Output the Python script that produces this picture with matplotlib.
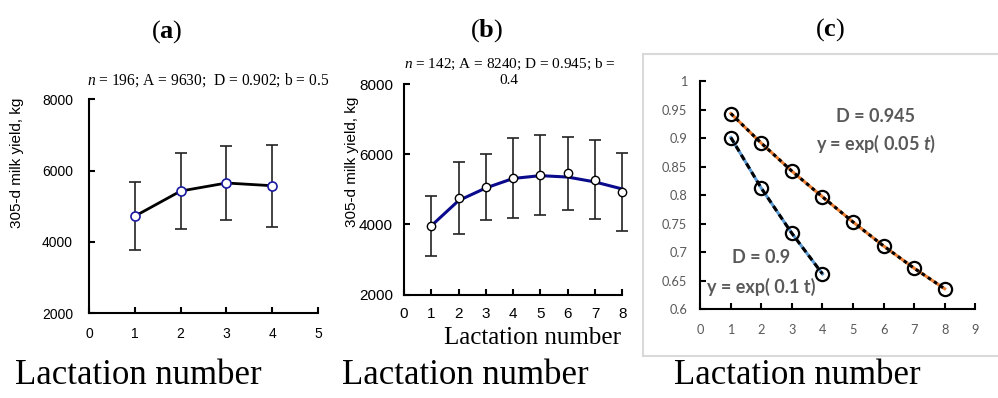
import numpy as np
import matplotlib
matplotlib.use("Agg")
from matplotlib import pyplot as plt
from matplotlib.lines import Line2D

# (a) 4 lactations
lact_a = [1, 2, 3, 4]
yield_a = [4723, 5427, 5653, 5577]
err_a = [945, 1055, 1024, 1150]

# (b) 8 lactations, observed means and fitted curve
lact_b = [1, 2, 3, 4, 5, 6, 7, 8]
yield_b = [3962, 4745, 5066, 5330, 5406, 5453, 5274, 4925]
err_b = [850, 1020, 950, 1140, 1145, 1040, 1120, 1100]
fit_b = [3962, 4680, 5040, 5310, 5390, 5350, 5210, 5010]

# (c) decay factors
lact_c1 = [1, 2, 3, 4, 5, 6, 7, 8]
d_0945 = [0.943, 0.891, 0.842, 0.797, 0.753, 0.711, 0.672, 0.636]
lact_c2 = [1, 2, 3, 4]
d_09 = [0.901, 0.812, 0.733, 0.662]

plt.rcParams['mathtext.fontset'] = 'custom'
plt.rcParams['mathtext.rm'] = 'Liberation Serif'
plt.rcParams['mathtext.it'] = 'Liberation Serif:italic'
plt.rcParams['mathtext.bf'] = 'Liberation Serif:bold'
plt.rcParams['mathtext.bfit'] = 'Lato:italic:bold'

W, H = 998, 398
fig = plt.figure(figsize=(W / 100, H / 100), dpi=100)


def px_axes(l, r, t, b):
    return fig.add_axes([l / W, 1 - b / H, (r - l) / W, (b - t) / H])


def ftext(x, y, s, **kw):
    return fig.text(x / W, 1 - y / H, s, ha='center', va='center', **kw)


def style_axes(ax, lw=1.5):
    for side in ['top', 'right']:
        ax.spines[side].set_visible(False)
    for side in ['left', 'bottom']:
        ax.spines[side].set_linewidth(lw)
        ax.spines[side].set_color('black')
    ax.tick_params(direction='in', length=4, width=lw)


# ---- panel (a)
ax1 = px_axes(89, 318, 99.3, 313.3)
style_axes(ax1)
ax1.errorbar(lact_a, yield_a, yerr=err_a, fmt='none', ecolor='#222222',
             elinewidth=1.2, capsize=4.5, capthick=1.2)
ax1.plot(lact_a, yield_a, color='black', lw=2, marker='o', ms=6.5,
         mfc='white', mec='#1a1aa0', mew=1.2, zorder=5)
ax1.set_xlim(0, 5)
ax1.set_ylim(2000, 8000)
ax1.set_xticks(range(0, 6))
ax1.set_yticks([2000, 4000, 6000, 8000])
ax1.tick_params(axis='y', pad=11.5)
ax1.tick_params(axis='x', pad=10)
ax1.tick_params(labelsize=10, labelfontfamily='Liberation Sans')

# ---- panel (b)
ax2 = px_axes(404, 622.3, 84, 294.7)
style_axes(ax2)
ax2.errorbar(lact_b, yield_b, yerr=err_b, fmt='none', ecolor='#222222',
             elinewidth=1.2, capsize=4.5, capthick=1.2, clip_on=False)
ax2.plot(lact_b, fit_b, color='#0a0a8c', lw=2.2, clip_on=False)
ax2.plot(lact_b, yield_b, ls='none', marker='o', ms=6, mfc='white',
         mec='black', mew=1, zorder=5, clip_on=False)
ax2.set_xlim(0, 8)
ax2.set_ylim(2000, 8000)
ax2.set_xticks(range(0, 9))
ax2.set_yticks([2000, 4000, 6000, 8000])
ax2.tick_params(axis='y', pad=8)
ax2.tick_params(axis='x', pad=9)
ax2.tick_params(labelsize=11, labelfontfamily='Liberation Sans')

# ---- panel (c)
ax3 = px_axes(700.3, 975.2, 81, 309.3)
style_axes(ax3)
ax3.plot(lact_c1, d_0945, color='#ED7D31', lw=2.2)
ax3.plot(lact_c1, d_0945, color='black', lw=2.2, dashes=(1.2, 1.2))
ax3.plot(lact_c2, d_09, color='#5B9BD5', lw=2.2)
ax3.plot(lact_c2, d_09, color='black', lw=2.2, dashes=(2, 1.3))
ax3.plot(lact_c1, d_0945, ls='none', marker='o', ms=9.5, mfc='none',
         mec='black', mew=1.6, clip_on=False)
ax3.plot(lact_c2, d_09, ls='none', marker='o', ms=9.5, mfc='none',
         mec='black', mew=1.6, clip_on=False)
ax3.set_xlim(0, 9)
ax3.set_ylim(0.6, 1.0)
ax3.set_xticks(range(0, 10))
ax3.set_yticks(np.arange(0.6, 1.001, 0.05))
ax3.set_yticklabels(['0.6', '0.65', '0.7', '0.75', '0.8', '0.85', '0.9', '0.95', '1'])
ax3.tick_params(axis='y', pad=9.5)
ax3.tick_params(axis='x', pad=10.5)
ax3.tick_params(labelsize=9.2, labelfontfamily='Lato', labelcolor='#595959')

ax3.text(5.75, 0.9375, 'D = 0.945', family='Lato', weight='bold', fontsize=13,
         color='#595959', ha='center', va='center')
ax3.text(5.75, 0.8896, r'y = exp( 0.05 $\mathbfit{t}$)', family='Lato', weight='bold',
         fontsize=13, color='#595959', ha='center', va='center')
ax3.text(1.99, 0.6904, 'D = 0.9', family='Lato', weight='bold', fontsize=13,
         color='#595959', ha='center', va='center')
ax3.text(1.98, 0.6396, 'y = exp( 0.1 t)', family='Lato', weight='bold', fontsize=13,
         color='#595959', ha='center', va='center')

# light frame round panel (c)
for xs, ys in [([643, 1000], [54, 54]), ([643, 1000], [356, 356]), ([643, 643], [54, 356])]:
    fig.add_artist(Line2D([x / W for x in xs], [1 - y / H for y in ys],
                          color='#d9d9d9', lw=1.5))

# titles and labels
ftext(166.7, 31.5, r'($\mathbf{a}$)', family='Liberation Serif', fontsize=19)
ftext(486.7, 31, r'($\mathbf{b}$)', family='Liberation Serif', fontsize=19)
ftext(830, 30, r'($\mathbf{c}$)', family='Liberation Serif', fontsize=19)

ftext(208.3, 80, r'$n$ = 196; A = 9630;  D = 0.902; b = 0.5',
      family='Liberation Serif', fontsize=11.2)
ftext(510, 64, r'$n$ = 142; A = 8240; D = 0.945; b =',
      family='Liberation Serif', fontsize=11)
ftext(509, 81, '0.4', family='Liberation Serif', fontsize=11)

ftext(17.3, 163, '305-d milk yield, kg', rotation=90, family='Liberation Sans', fontsize=11)
ftext(351.7, 162, '305-d milk yield, kg', rotation=90, family='Liberation Sans', fontsize=11)

ftext(533, 338, 'Lactation number', family='Liberation Serif', fontsize=18)
ftext(138, 375, 'Lactation number', family='Liberation Serif', fontsize=25)
ftext(465, 375, 'Lactation number', family='Liberation Serif', fontsize=25)
ftext(797, 375, 'Lactation number', family='Liberation Serif', fontsize=25)

fig.savefig('out.png', dpi=100)
